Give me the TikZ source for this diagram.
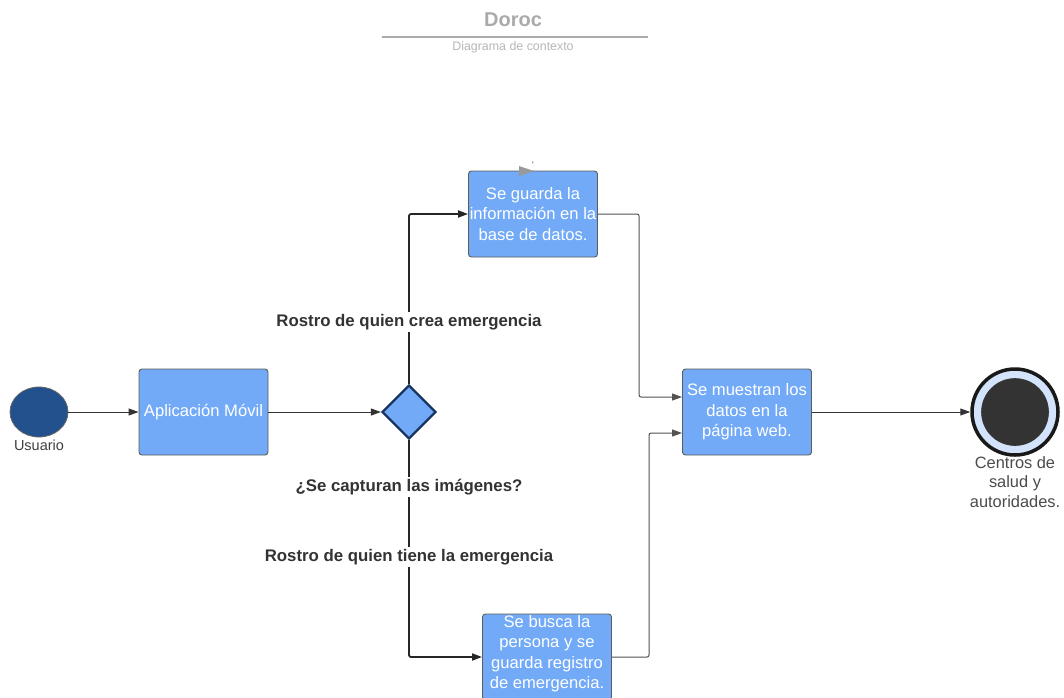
\documentclass[tikz,border=0pt]{standalone}
\usepackage{fontspec}
\setmainfont{Liberation Sans}
\usetikzlibrary{shapes.geometric,arrows.meta}
\definecolor{boxblue}{HTML}{72AAF7}
\definecolor{userblue}{HTML}{22518E}
\definecolor{navy}{HTML}{17365F}
\definecolor{ringblue}{HTML}{D2E3FB}
\definecolor{ink}{HTML}{333333}
\definecolor{titlegray}{HTML}{AAAAAA}
\tikzset{
  box/.style={rectangle, rounded corners=3pt, draw=ink!80, line width=0.9pt,
    fill=boxblue, minimum width=129pt, minimum height=86pt, inner sep=0pt,
    text=white, align=center,
    font=\fontsize{16.6}{20.5}\selectfont},
  boxtext/.style={text=white, align=center, inner sep=0pt,
    font=\fontsize{16.6}{20.5}\selectfont},
  flow/.style={draw=ink, line width=1pt, -{Triangle[length=10pt,width=7pt]}},
  branch/.style={draw=black!85, line width=1.8pt, rounded corners=2pt,
    -{Triangle[length=10pt,width=7pt]}},
  side/.style={draw=ink!85, line width=1pt, rounded corners=2pt,
    -{Triangle[length=10pt,width=7pt]}},
  cond/.style={fill=white, inner sep=2pt, text=ink,
    font=\fontsize{16.8}{19}\selectfont\bfseries},
  caption/.style={text=black!70, align=center,
    font=\fontsize{16.4}{19.5}\selectfont}
}
\begin{document}
\begin{tikzpicture}[x=1pt, y=-1pt]
\useasboundingbox (0,0) rectangle (1064,697);
\fill[white] (0,0) rectangle (1064,697);

% heading
\node[text=titlegray, font=\fontsize{20}{23}\selectfont\bfseries] (title) at (513,20) {Doroc};
\draw[titlegray, line width=1.3pt] (382,37) coordinate (rl) -- (648,37) coordinate (rr);
\node[text=titlegray!85, font=\fontsize{12.4}{14}\selectfont] (subtitle) at (513,47) {Diagrama de contexto};

% start actor
\node[ellipse, draw=black!60, line width=0.8pt, fill=userblue, minimum width=58pt, minimum height=50pt] (user) at (39,412) {};
\node[text=black!75, font=\fontsize{14.5}{16}\selectfont] (userlbl) at (39,445) {Usuario};

% process boxes
\node[box] (app) at (203.5,412) {Aplicación Móvil};
\node[diamond, draw=navy, line width=2.3pt, fill=boxblue, minimum width=54pt, minimum height=54pt, inner sep=0pt] (dec) at (409,412) {};
\node[box] (save) at (533,214) {Se guarda la\\información en la\\base de datos.};
\node[box] (show) at (747,412) {Se muestran los\\datos en la\\página web.};
\node[box] (search) at (547,657) {};
\node[boxtext] (searchtxt) at (547,653.5) {Se busca la\\persona y se\\guarda registro\\de emergencia.};

% small marker above the storage box
\fill[black!40] (519,166) -- (534,171) -- (519,176) -- cycle;
\node[text=black!60, font=\fontsize{10}{10}\selectfont, inner sep=0pt] (tick) at (533,165) {`};

% end state
\node[circle, draw=black!90, line width=3.5pt, fill=ringblue, minimum size=86pt] (end) at (1015,412) {};
\node[circle, fill=ink, draw=black!80, line width=0.6pt, minimum size=67pt] (endcore) at (1015,412) {};
\node[caption] (endlbl) at (1015,482) {Centros de\\salud y\\autoridades.};

% connectors
\draw[flow] (user.east) -- (app.west);
\draw[flow] (app.east) -- (dec.west);
\draw[branch] (dec.north) |- (save.west);
\draw[branch] (dec.south) |- (search.west);
\draw[side] (save.east) -| (639,397) coordinate (s1) -- (show.west |- s1);
\draw[side] (search.east) -| (649,433) coordinate (s2) -- (show.west |- s2);
\draw[flow] (show.east) -- (end.west);

% branch labels
\node[cond] (lblup) at (409,322) {Rostro de quien crea emergencia};
\node[cond] (lblq) at (409,487) {¿Se capturan las imágenes?};
\node[cond] (lbldown) at (409,557) {Rostro de quien tiene la emergencia};
\end{tikzpicture}
\end{document}
